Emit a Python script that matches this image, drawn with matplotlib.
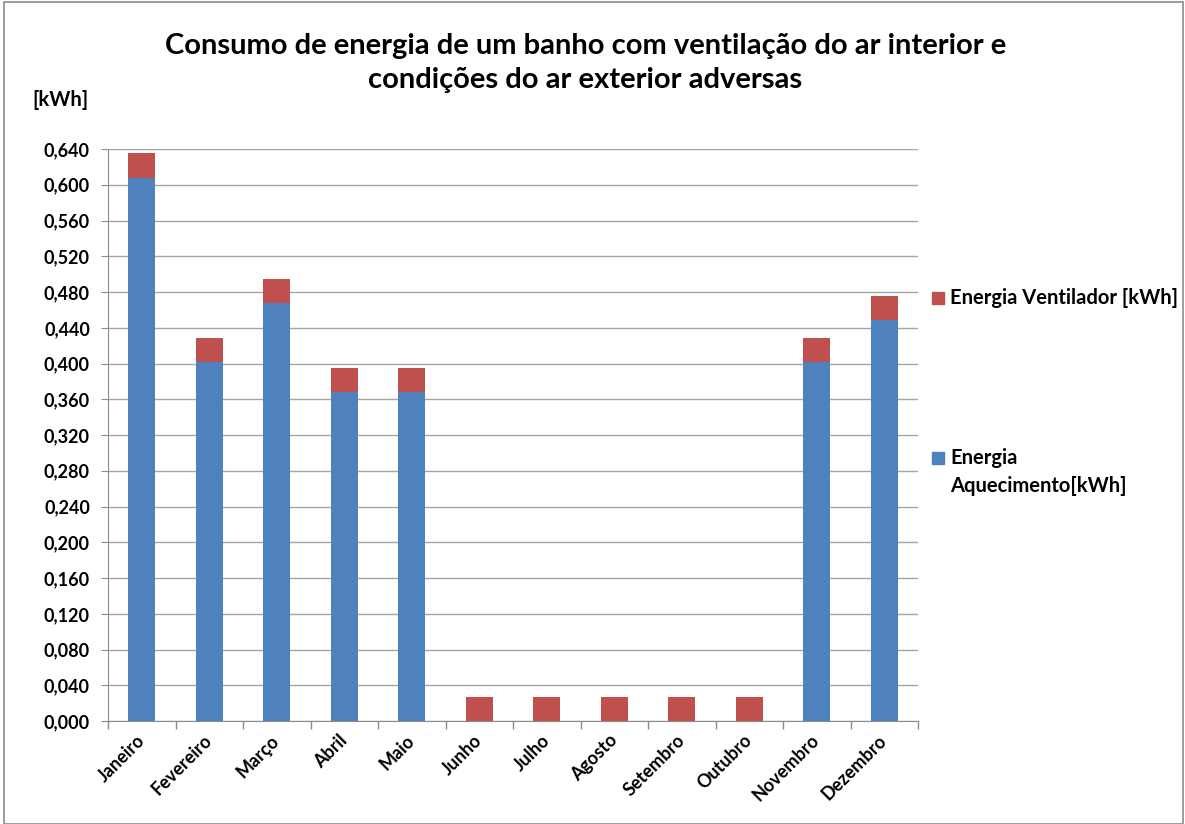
import numpy as np
import matplotlib.pyplot as plt
from matplotlib.patches import Rectangle
from matplotlib.ticker import FuncFormatter, MultipleLocator

plt.rcParams['font.family'] = ['Lato', 'DejaVu Sans']
plt.rcParams['font.weight'] = 'bold'

meses = ['Janeiro', 'Fevereiro', 'Março', 'Abril', 'Maio', 'Junho', 'Julho',
         'Agosto', 'Setembro', 'Outubro', 'Novembro', 'Dezembro']
aquecimento = [0.608, 0.402, 0.468, 0.368, 0.368, 0.0, 0.0, 0.0, 0.0, 0.0, 0.402, 0.449]
ventilador = [0.027, 0.027, 0.027, 0.027, 0.027, 0.027, 0.027, 0.027, 0.027, 0.027, 0.027, 0.027]

azul = '#4F81BD'
vermelho = '#C0504D'

fig = plt.figure(figsize=(11.85, 8.24), dpi=100)
ax = fig.add_axes([108 / 1185, 1 - 721 / 824, 810 / 1185, 572 / 824])

x = np.arange(len(meses))
ax.bar(x, aquecimento, width=0.4, color=azul, zorder=3)
ax.bar(x, ventilador, width=0.4, bottom=aquecimento, color=vermelho, zorder=3)

ax.set_xlim(-0.5, len(meses) - 0.5)
ax.set_ylim(0, 0.64)
ax.yaxis.set_major_locator(MultipleLocator(0.04))
ax.yaxis.set_major_formatter(FuncFormatter(lambda v, p: f'{v:.3f}'.replace('.', ',')))
ax.grid(axis='y', color='#A6A6A6', linewidth=1, zorder=0)

# ticks nas fronteiras das categorias, rótulos no centro
ax.set_xticks(np.arange(-0.5, len(meses), 1.0))
ax.set_xticklabels([])
ax.set_xticks(x, minor=True)
ax.set_xticklabels(meses, minor=True, rotation=45, ha='right', va='center',
                   rotation_mode='anchor', fontsize=13, fontweight='bold')
ax.tick_params(axis='x', which='minor', length=0, pad=12)
ax.tick_params(axis='x', which='major', length=6, color='#8C8C8C', width=1)
ax.tick_params(axis='y', length=5, color='#8C8C8C', labelsize=13, pad=8)
for lab in ax.get_yticklabels():
    lab.set_fontweight('bold')

for s in ['top', 'right']:
    ax.spines[s].set_visible(False)
for s in ['left', 'bottom']:
    ax.spines[s].set_color('#8C8C8C')

fig.text(0.494, 1 - 63 / 824, 'Consumo de energia de um banho com ventilação do ar interior e\n'
         'condições do ar exterior adversas', ha='center', va='center',
         fontsize=21, fontweight='bold', linespacing=1.4)
fig.text(60 / 1185, 1 - 100 / 824, '[kWh]', ha='center', va='center',
         fontsize=14.5, fontweight='bold')

# legenda
fig.add_artist(Rectangle((932 / 1185, 1 - 304 / 824), 12 / 1185, 12 / 824,
                         transform=fig.transFigure, color=vermelho))
fig.text(950 / 1185, 1 - 298 / 824, 'Energia Ventilador [kWh]', va='center',
         fontsize=14.5, fontweight='bold')
fig.add_artist(Rectangle((932 / 1185, 1 - 464 / 824), 12 / 1185, 12 / 824,
                         transform=fig.transFigure, color=azul))
fig.text(950 / 1185, 1 - 458 / 824, 'Energia', va='center',
         fontsize=14.5, fontweight='bold')
fig.text(950 / 1185, 1 - 486 / 824, 'Aquecimento[kWh]', va='center',
         fontsize=14.5, fontweight='bold')

# moldura da área do gráfico
fig.add_artist(Rectangle((4 / 1185, 0), 1 - 6 / 1185, 1 - 2 / 824, transform=fig.transFigure,
                         fill=False, edgecolor='#8C8C8C', linewidth=1.2))

fig.savefig('out.png', dpi=100)
